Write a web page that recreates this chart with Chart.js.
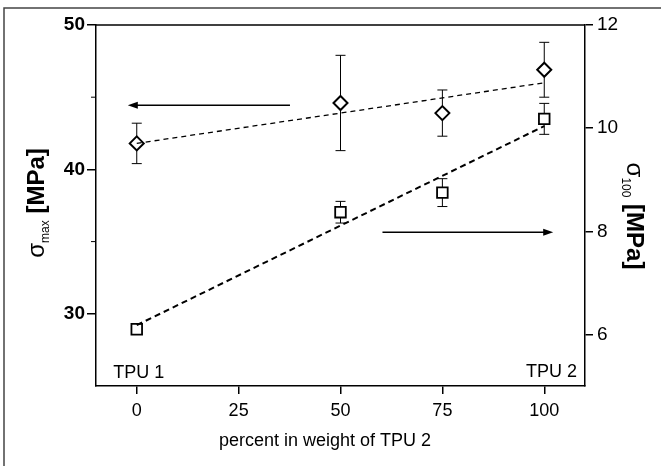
<!DOCTYPE html>
<html>
<head>
<meta charset="utf-8">
<script src="https://cdn.jsdelivr.net/npm/chart.js@4"></script>
<style>
  html, body { margin: 0; padding: 0; background: #fff; }
  #wrap { width: 661px; height: 466px; }
</style>
</head>
<body>
<div id="wrap"><canvas id="chart" width="661" height="466"></canvas></div>
<script>
// data
const percentTPU2 = [0, 50, 75, 100];
const sigmaMax = [41.8, 44.6, 43.9, 46.9];        // left axis, MPa
const sigmaMaxErr = [1.4, 3.3, 1.6, 1.9];
const sigma100 = [6.1, 8.37, 8.75, 10.18];        // right axis, MPa
const sigma100Err = [0.05, 0.21, 0.27, 0.30];

// linear fits (end points)
const fitX = [0, 100];
const fitMax = [41.8, 46.0];
const fit100 = [6.18, 10.04];

// axis ticks
const xTicks = [0, 25, 50, 75, 100];
const leftTicks = [30, 40, 50];
const leftMinor = [35, 45];
const rightTicks = [6, 8, 10, 12];

// arrows: [x start, x end], y on the axis they point to
const arrowMaxX = [37.6, -2.2];
const arrowMaxY = 44.45;
const arrow100X = [60.3, 102.2];
const arrow100Y = 7.98;

const FONT = "'Liberation Sans', Arial, sans-serif";

function pts(xs, ys) {
    return xs.map((x, i) => ({ x: x, y: ys[i] }));
}

function setTicks(values) {
    return scale => { scale.ticks = values.map(v => ({ value: v })); };
}

// frame, error bars, arrows, labels
const decor = {
    id: 'decor',
    beforeDraw(chart) {
        const c = chart.ctx;
        c.save();
        c.strokeStyle = '#444';
        c.lineWidth = 1.5;
        c.beginPath();
        c.moveTo(4, 466);
        c.lineTo(4, 8);
        c.lineTo(661, 8);
        c.stroke();
        c.restore();
    },
    beforeDatasetsDraw(chart) {
        const c = chart.ctx;
        const xs = chart.scales.x;
        c.save();
        c.strokeStyle = '#000';
        c.lineWidth = 1;
        const draw = (vals, errs, scale) => {
            vals.forEach((v, i) => {
                const px = xs.getPixelForValue(percentTPU2[i]);
                const top = scale.getPixelForValue(v + errs[i]);
                const bot = scale.getPixelForValue(v - errs[i]);
                c.beginPath();
                c.moveTo(px, top); c.lineTo(px, bot);
                c.moveTo(px - 5, top); c.lineTo(px + 5, top);
                c.moveTo(px - 5, bot); c.lineTo(px + 5, bot);
                c.stroke();
            });
        };
        draw(sigmaMax, sigmaMaxErr, chart.scales.y);
        draw(sigma100, sigma100Err, chart.scales.y2);
        c.restore();
    },
    afterDraw(chart) {
        const c = chart.ctx;
        const a = chart.chartArea;
        const xs = chart.scales.x, yl = chart.scales.y, yr = chart.scales.y2;
        c.save();
        // top border of the plot box
        c.strokeStyle = '#000';
        c.lineWidth = 1.5;
        c.beginPath();
        c.moveTo(a.left, a.top); c.lineTo(a.right, a.top);
        c.stroke();
        // minor ticks on the left axis
        c.lineWidth = 1;
        leftMinor.forEach(v => {
            const py = yl.getPixelForValue(v);
            c.beginPath(); c.moveTo(a.left - 5, py); c.lineTo(a.left, py); c.stroke();
        });

        // arrows
        const arrow = (x0, x1, py) => {
            const p0 = xs.getPixelForValue(x0), p1 = xs.getPixelForValue(x1);
            const dir = Math.sign(p1 - p0);
            c.lineWidth = 1.5;
            c.beginPath(); c.moveTo(p0, py); c.lineTo(p1 - dir * 8, py); c.stroke();
            c.beginPath();
            c.moveTo(p1, py);
            c.lineTo(p1 - dir * 10, py - 3.5);
            c.lineTo(p1 - dir * 10, py + 3.5);
            c.closePath();
            c.fillStyle = '#000';
            c.fill();
        };
        arrow(arrowMaxX[0], arrowMaxX[1], yl.getPixelForValue(arrowMaxY));
        arrow(arrow100X[0], arrow100X[1], yr.getPixelForValue(arrow100Y));

        // TPU labels
        c.fillStyle = '#000';
        c.font = '18px ' + FONT;
        c.textBaseline = 'alphabetic';
        c.textAlign = 'center';
        c.fillText('TPU 1', xs.getPixelForValue(0) + 2, a.bottom - 8);
        c.textAlign = 'right';
        c.fillText('TPU 2', a.right - 8, a.bottom - 9);

        // x title
        c.textAlign = 'center';
        c.fillText('percent in weight of TPU 2', 325, 446);

        // rotated y titles with subscripts
        const title = (sub, cx, cy, rot) => {
            const big = 'bold 24px ' + FONT;
            const sym = '24px ' + FONT;
            const small = '12px ' + FONT;
            c.font = sym; const w1 = c.measureText('σ').width;
            c.font = small; const w2 = c.measureText(sub).width;
            c.font = big; const w3 = c.measureText(' [MPa]').width;
            const total = w1 + w2 + w3;
            c.save();
            c.translate(cx, cy);
            c.rotate(rot);
            c.textAlign = 'left';
            let x = -total / 2;
            c.font = sym; c.fillText('σ', x, 0); x += w1;
            c.font = small; c.fillText(sub, x, 5); x += w2;
            c.font = big; c.fillText(' [MPa]', x, 0);
            c.restore();
        };
        title('max', 44, 203, -Math.PI / 2);
        title('100', 627, 216, Math.PI / 2);
        c.restore();
    }
};

new Chart(document.getElementById('chart'), {
    type: 'scatter',
    data: {
        datasets: [
            {
                label: 'fit sigma max',
                data: pts(fitX, fitMax),
                yAxisID: 'y',
                showLine: true,
                borderColor: '#000',
                borderWidth: 1.3,
                borderDash: [5, 4],
                pointRadius: 0
            },
            {
                label: 'fit sigma 100',
                data: pts(fitX, fit100),
                yAxisID: 'y2',
                showLine: true,
                borderColor: '#000',
                borderWidth: 2,
                borderDash: [6, 4],
                pointRadius: 0
            },
            {
                label: 'sigma max',
                data: pts(percentTPU2, sigmaMax),
                yAxisID: 'y',
                pointStyle: 'rectRot',
                pointRadius: 7,
                borderColor: '#000',
                borderWidth: 2,
                backgroundColor: '#fff'
            },
            {
                label: 'sigma 100',
                data: pts(percentTPU2, sigma100),
                yAxisID: 'y2',
                pointStyle: 'rect',
                pointRadius: 7.5,
                borderColor: '#000',
                borderWidth: 1.8,
                backgroundColor: '#fff'
            }
        ]
    },
    options: {
        responsive: false,
        animation: false,
        devicePixelRatio: 1,
        layout: { padding: { top: 25, left: 0, right: 0, bottom: 0 } },
        plugins: { legend: { display: false }, tooltip: { enabled: false } },
        scales: {
            x: {
                type: 'linear',
                min: -10,
                max: 110,
                afterBuildTicks: setTicks(xTicks),
                afterFit: s => { s.height = 80; },
                grid: { drawOnChartArea: false, color: '#000', lineWidth: 1.5, tickLength: 8 },
                border: { color: '#000', width: 1.5 },
                ticks: { color: '#000', font: { family: FONT, size: 18 }, padding: 6, maxRotation: 0 }
            },
            y: {
                position: 'left',
                min: 25,
                max: 50,
                afterBuildTicks: setTicks(leftTicks),
                afterFit: s => { s.width = 96; },
                grid: { drawOnChartArea: false, color: '#000', lineWidth: 1.5, tickLength: 9 },
                border: { color: '#000', width: 1.5 },
                ticks: { color: '#000', font: { family: FONT, size: 19, weight: 'bold' }, padding: 2 }
            },
            y2: {
                position: 'right',
                min: 5,
                max: 12,
                afterBuildTicks: setTicks(rightTicks),
                afterFit: s => { s.width = 76; },
                grid: { drawOnChartArea: false, color: '#000', lineWidth: 1.5, tickLength: 8 },
                border: { color: '#000', width: 1.5 },
                ticks: { color: '#000', font: { family: FONT, size: 19 }, padding: 4 }
            }
        }
    },
    plugins: [decor]
});
</script>
</body>
</html>
